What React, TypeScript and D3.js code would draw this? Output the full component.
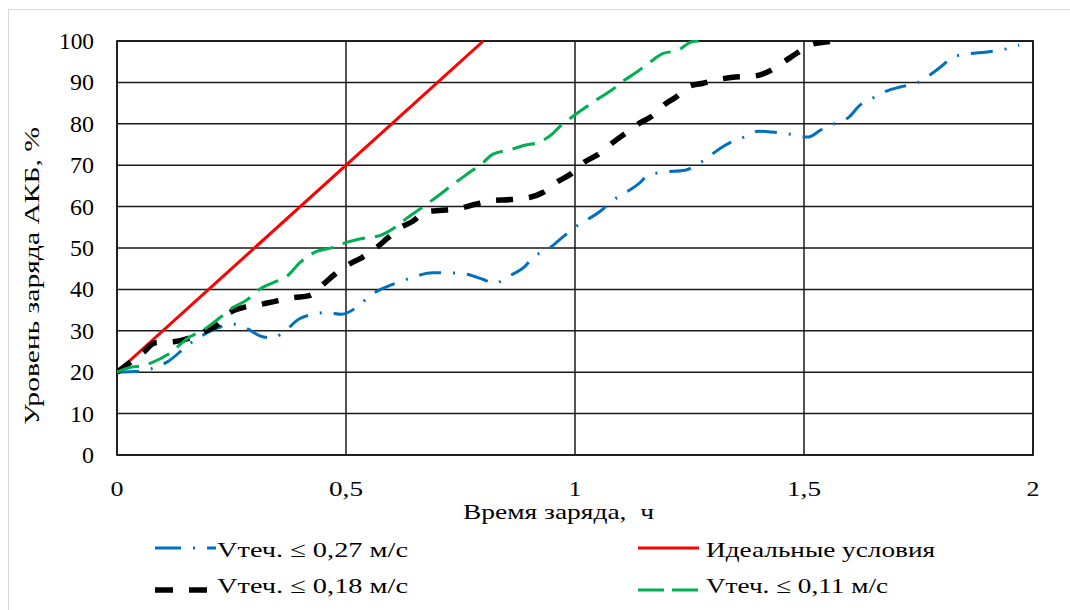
import React from "react";
import * as d3 from "d3";

const xTicks = [0, 0.5, 1, 1.5, 2];
const xTickLabels = ["0", "0,5", "1", "1,5", "2"];
const yTicks = [0, 10, 20, 30, 40, 50, 60, 70, 80, 90, 100];

const blueX = [0, 0.055, 0.08, 0.11, 0.16, 0.22, 0.25, 0.28, 0.32, 0.34, 0.37, 0.40, 0.46, 0.49, 0.53, 0.55, 0.59, 0.62, 0.65, 0.69, 0.72, 0.755, 0.80, 0.825, 0.85, 0.89, 0.91, 0.94, 0.975, 1.0, 1.06, 1.08, 1.105, 1.14, 1.16, 1.19, 1.24, 1.26, 1.29, 1.32, 1.345, 1.375, 1.40, 1.43, 1.47, 1.51, 1.535, 1.56, 1.60, 1.62, 1.65, 1.68, 1.71, 1.745, 1.78, 1.80, 1.825, 1.86, 1.895, 1.93, 1.97];
const blueY = [20, 20.3, 21, 22.5, 27, 30.7, 31.7, 30.7, 28.5, 28.3, 30.3, 33, 34.4, 34, 36.3, 38.3, 40.7, 41.9, 43.1, 44, 44, 43.8, 42.4, 41.4, 42.9, 45.5, 47.9, 49.6, 52.8, 55, 59.3, 61.3, 63, 65.6, 67.6, 68.3, 68.8, 69.7, 71.9, 74.3, 75.8, 77, 78.2, 78, 77.5, 76.8, 78.4, 79.7, 81.8, 84.3, 86.2, 87.9, 88.9, 89.8, 92.2, 93.9, 96.1, 96.9, 97.3, 97.8, 99];

const blackX = [0, 0.03, 0.057, 0.083, 0.127, 0.16, 0.19, 0.22, 0.24, 0.275, 0.31, 0.34, 0.385, 0.42, 0.45, 0.475, 0.51, 0.535, 0.57, 0.59, 0.62, 0.645, 0.675, 0.71, 0.75, 0.78, 0.82, 0.86, 0.90, 0.93, 0.96, 0.99, 1.02, 1.05, 1.083, 1.11, 1.14, 1.17, 1.196, 1.22, 1.25, 1.28, 1.317, 1.35, 1.39, 1.42, 1.455, 1.485, 1.52, 1.55, 1.57];
const blackY = [20, 22.5, 24.7, 27.1, 27.4, 28.3, 29.8, 31.5, 33.9, 35.6, 36.3, 37, 38, 38.5, 41.2, 43.6, 46.3, 47.7, 50.4, 52.3, 55, 56.4, 58.8, 59.1, 59.6, 60.5, 61.5, 61.7, 62.2, 63.4, 65.9, 67.8, 70.7, 72.6, 75.5, 77.7, 80.1, 82, 84.7, 86.4, 89.1, 89.8, 90.8, 91.3, 91.5, 92.5, 94.9, 97.1, 99.3, 99.8, 100];

const greenX = [0, 0.035, 0.055, 0.076, 0.11, 0.16, 0.19, 0.225, 0.253, 0.284, 0.31, 0.34, 0.37, 0.40, 0.43, 0.47, 0.50, 0.546, 0.574, 0.61, 0.635, 0.666, 0.70, 0.734, 0.764, 0.80, 0.82, 0.86, 0.89, 0.92, 0.95, 0.967, 0.993, 1.017, 1.05, 1.077, 1.105, 1.135, 1.164, 1.19, 1.225, 1.255, 1.27];
const greenY = [20, 21.3, 21.5, 22.3, 24.2, 28.6, 30.3, 33.2, 35.6, 37.5, 40, 41.6, 43.1, 46.5, 48.9, 50.1, 51.3, 52.5, 53, 55.2, 57.4, 59.8, 62.5, 65.4, 67.8, 70.7, 72.6, 73.8, 74.8, 75.5, 77.5, 79.4, 81.6, 83.5, 86, 87.9, 90.3, 92.5, 94.9, 96.9, 97.8, 99.8, 100];

const redX = [0, 0.8];
const redY = [20, 100];

const seriesNames = [
  "Vтеч. ≤ 0,27 м/с",
  "Идеальные условия",
  "Vтеч. ≤ 0,18 м/с",
  "Vтеч. ≤ 0,11 м/с",
];

const FONT = "Liberation Serif";

export default function App() {
  const left = 117, right = 1033, top = 41, bottom = 455;
  const x = d3.scaleLinear().domain([0, 2]).range([left, right]);
  const y = d3.scaleLinear().domain([0, 100]).range([bottom, top]);
  const line = d3
    .line<[number, number]>()
    .x((d) => x(d[0]))
    .y((d) => y(d[1]))
    .curve(d3.curveMonotoneX);
  const zip = (a: number[], b: number[]) => a.map((v, i) => [v, b[i]] as [number, number]);

  const series = [
    { xs: blueX, ys: blueY, color: "#0070C0", width: 3, dash: "22 12 2 12", ldash: "26 12 2 12" },
    { xs: redX, ys: redY, color: "#FF0000", width: 3, dash: null, ldash: null },
    { xs: blackX, ys: blackY, color: "#000000", width: 5.5, dash: "17 16", ldash: "18 16" },
    { xs: greenX, ys: greenY, color: "#00B050", width: 3, dash: "23 10", ldash: "26 8" },
  ];
  const drawOrder = [1, 0, 2, 3];

  const legendItems = [
    { s: 0, x: 155, y: 548, tx: 217, ty: 557, tl: 191 },
    { s: 1, x: 638, y: 548, tx: 706, ty: 557, tl: 229 },
    { s: 2, x: 155, y: 590, tx: 217, ty: 593, tl: 191 },
    { s: 3, x: 638, y: 590, tx: 706, ty: 593, tl: 182 },
  ];

  const yLabelLen = (t: number) => (t >= 100 ? 35 : t >= 10 ? 24 : 12);
  const xLabelLen = (s: string) => (s.length > 1 ? 34 : 13);

  return (
    <svg width={1070} height={610} style={{ position: "absolute", left: 0, top: 0, background: "#fff" }}>
      <rect x={8.5} y={9.5} width={1100} height={700} fill="#fff" stroke="#d9d9d9" strokeWidth={1} />
      <defs>
        <clipPath id="plotClip">
          <rect x={left} y={top - 1} width={right - left} height={bottom - top + 1} />
        </clipPath>
      </defs>
      {yTicks.map((t) => (
        <line key={"h" + t} x1={left} x2={right} y1={y(t)} y2={y(t)} stroke="#1a1a1a" strokeWidth={1.5} />
      ))}
      {xTicks.map((t) => (
        <line key={"v" + t} x1={x(t)} x2={x(t)} y1={top} y2={bottom} stroke="#1a1a1a" strokeWidth={1.5} />
      ))}
      <rect x={left} y={top} width={right - left} height={bottom - top} fill="none" stroke="#1a1a1a" strokeWidth={1.8} />
      <g clipPath="url(#plotClip)">
        {drawOrder.map((i) => {
          const s = series[i];
          return (
            <path
              key={i}
              d={line(zip(s.xs, s.ys)) || ""}
              fill="none"
              stroke={s.color}
              strokeWidth={s.width}
              strokeDasharray={s.dash || undefined}
            />
          );
        })}
      </g>
      {yTicks.map((t) => (
        <text
          key={"yl" + t}
          x={94}
          y={y(t) + 8}
          textAnchor="end"
          fontSize={24}
          fontFamily={FONT}
          fill="#000"
          textLength={yLabelLen(t)}
          lengthAdjust="spacingAndGlyphs"
        >
          {t}
        </text>
      ))}
      {xTicks.map((t, i) => (
        <text
          key={"xl" + t}
          x={x(t)}
          y={496}
          textAnchor="middle"
          fontSize={22}
          fontFamily={FONT}
          fill="#000"
          textLength={xLabelLen(xTickLabels[i])}
          lengthAdjust="spacingAndGlyphs"
        >
          {xTickLabels[i]}
        </text>
      ))}
      <text
        x={463}
        y={519}
        fontSize={22}
        fontFamily={FONT}
        fill="#000"
        textLength={191}
        lengthAdjust="spacingAndGlyphs"
        style={{ whiteSpace: "pre" }}
      >
        {"Время заряда,  ч"}
      </text>
      <text
        transform={`translate(39, 425) rotate(-90)`}
        x={0}
        y={0}
        fontSize={22}
        fontFamily={FONT}
        fill="#000"
        textLength={298}
        lengthAdjust="spacingAndGlyphs"
      >
        Уровень заряда АКБ, %
      </text>
      {legendItems.map((it) => {
        const s = series[it.s];
        return (
          <g key={"lg" + it.s}>
            <line
              x1={it.x}
              x2={it.x + 61}
              y1={it.y}
              y2={it.y}
              stroke={s.color}
              strokeWidth={it.s === 2 ? 5.5 : 3}
              strokeDasharray={s.ldash || undefined}
            />
            <text
              x={it.tx}
              y={it.ty}
              fontSize={22}
              fontFamily={FONT}
              fill="#000"
              textLength={it.tl}
              lengthAdjust="spacingAndGlyphs"
            >
              {seriesNames[it.s]}
            </text>
          </g>
        );
      })}
    </svg>
  );
}
